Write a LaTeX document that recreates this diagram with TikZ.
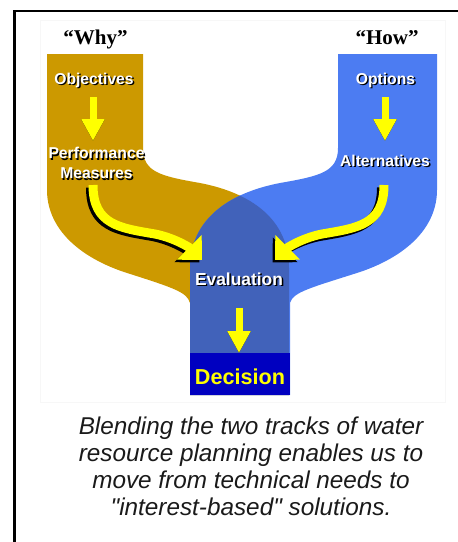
\documentclass[tikz,border=0pt]{standalone}
\usepackage{fontspec}
\setmainfont{Liberation Sans}
\newfontfamily\serifbold{Liberation Serif}
\font\captq="Liberation Sans Italic" at 24.3pt
\usetikzlibrary{arrows.meta}
\definecolor{goldc}{HTML}{CC9900}
\definecolor{bluec}{HTML}{4C7CF2}
\definecolor{ovlc}{HTML}{4162BA}
\definecolor{decc}{HTML}{0000C0}
\definecolor{yel}{HTML}{FFFF00}
\definecolor{captc}{HTML}{1A1A1A}
\newcommand\shtxt[1]{\leavevmode\rlap{\kern1.4pt\raisebox{-1.4pt}{\textcolor{black}{#1}}}\textcolor{white}{#1}}
\newcommand\sq{{\captq\char34}}
\tikzset{
  lbl/.style={inner sep=0pt, font=\bfseries\fontsize{15.7}{20}\selectfont, align=center},
  head/.style={inner sep=0pt, font=\serifbold\bfseries\fontsize{21}{24}\selectfont},
  sarrow/.style={line width=7pt, -{Triangle[length=22pt,width=22pt]}},
  carrow/.style={line width=9pt, -{Triangle[length=18pt,width=34pt]}},
}
\begin{document}
\begin{tikzpicture}[x=1pt,y=-1pt]
\useasboundingbox (0,0) rectangle (458,542);
% frame
\draw[line width=2.3pt] (14.5,542) -- (14.5,11) -- (458,11);
\draw[black!3, line width=0.6pt] (40,20) rectangle (445,402);
% paths
\def\goldpath{(47,54) -- (143,54) -- (143,148) .. controls (143,172) and (160,176) .. (200,183) .. controls (252,193) and (289,220) .. (289,268) -- (289,395) -- (190,395) -- (190,303) .. controls (187,292) and (174,288) .. (124,272) .. controls (74,255) and (47,225) .. (47,190) -- cycle}
\def\bluepath{(437,54) -- (338,54) -- (338,148) .. controls (338,172) and (320,176) .. (280,183) .. controls (228,193) and (190,220) .. (190,268) -- (190,395) -- (290,395) -- (290,303) .. controls (293,292) and (310,288) .. (360,272) .. controls (410,255) and (437,225) .. (437,190) -- cycle}
\fill[goldc] \goldpath;
\fill[bluec] \bluepath;
\begin{scope}
  \clip \goldpath;
  \fill[ovlc] \bluepath;
\end{scope}
\fill[decc] (190,353) rectangle (290,395);
% titles
\node[head, anchor=base] (why) at (95.5,44.5) {“Why”};
\node[head, anchor=base] (how) at (387,44.5) {“How”};
% labels
\node[lbl, anchor=base] (obj) at (94,84.5) {\shtxt{Objectives}};
\node[lbl, anchor=center] (perf) at (96.5,164) {\shtxt{Performance}\\\shtxt{Measures}};
\node[lbl, anchor=base] (opt) at (385.5,84.5) {\shtxt{Options}};
\node[lbl, anchor=base] (alt) at (385,166.5) {\shtxt{Alternatives}};
\node[lbl, anchor=base, font=\bfseries\fontsize{17.4}{20}\selectfont] (eval) at (239,285.5) {\shtxt{Evaluation}};
\node[inner sep=0pt, anchor=base, font=\bfseries\fontsize{21.6}{24}\selectfont, text=yel] (dec) at (240,384.5) {Decision};
% arrow anchor coordinates
\coordinate (a1s) at (93,97);   \coordinate (a1e) at (93,141);
\coordinate (a2s) at (385,97);  \coordinate (a2e) at (385,141);
\coordinate (a3s) at (239,308); \coordinate (a3e) at (239,353);
% straight arrows (shadow then yellow)
\foreach \s/\e in {a1s/a1e, a2s/a2e, a3s/a3e}{
  \draw[sarrow, black, shift={(-3,2)}] (\s) -- (\e);
  \draw[sarrow, yel] (\s) -- (\e);
}
% curved arrows
\draw[carrow, black, shift={(-2.5,2.5)}] (93,185) .. controls (93,225) and (120,228) .. (155,234) .. controls (175,238) and (190,248) .. (202,260);
\draw[carrow, yel] (93,185) .. controls (93,225) and (120,228) .. (155,234) .. controls (175,238) and (190,248) .. (202,260);
\draw[carrow, black, shift={(-2.5,2.5)}] (384,185) .. controls (384,225) and (357,228) .. (322,234) .. controls (302,238) and (287,248) .. (275,260);
\draw[carrow, yel] (384,185) .. controls (384,225) and (357,228) .. (322,234) .. controls (302,238) and (287,248) .. (275,260);
% caption
\node[inner sep=0pt, align=center, text=captc, font=\itshape\fontsize{24.3}{27}\selectfont] (cap) at (251,466.5)
  {Blending the two tracks of water\\resource planning enables us to\\move from technical needs to\\\sq interest-based\sq{} solutions.};
\end{tikzpicture}
\end{document}
